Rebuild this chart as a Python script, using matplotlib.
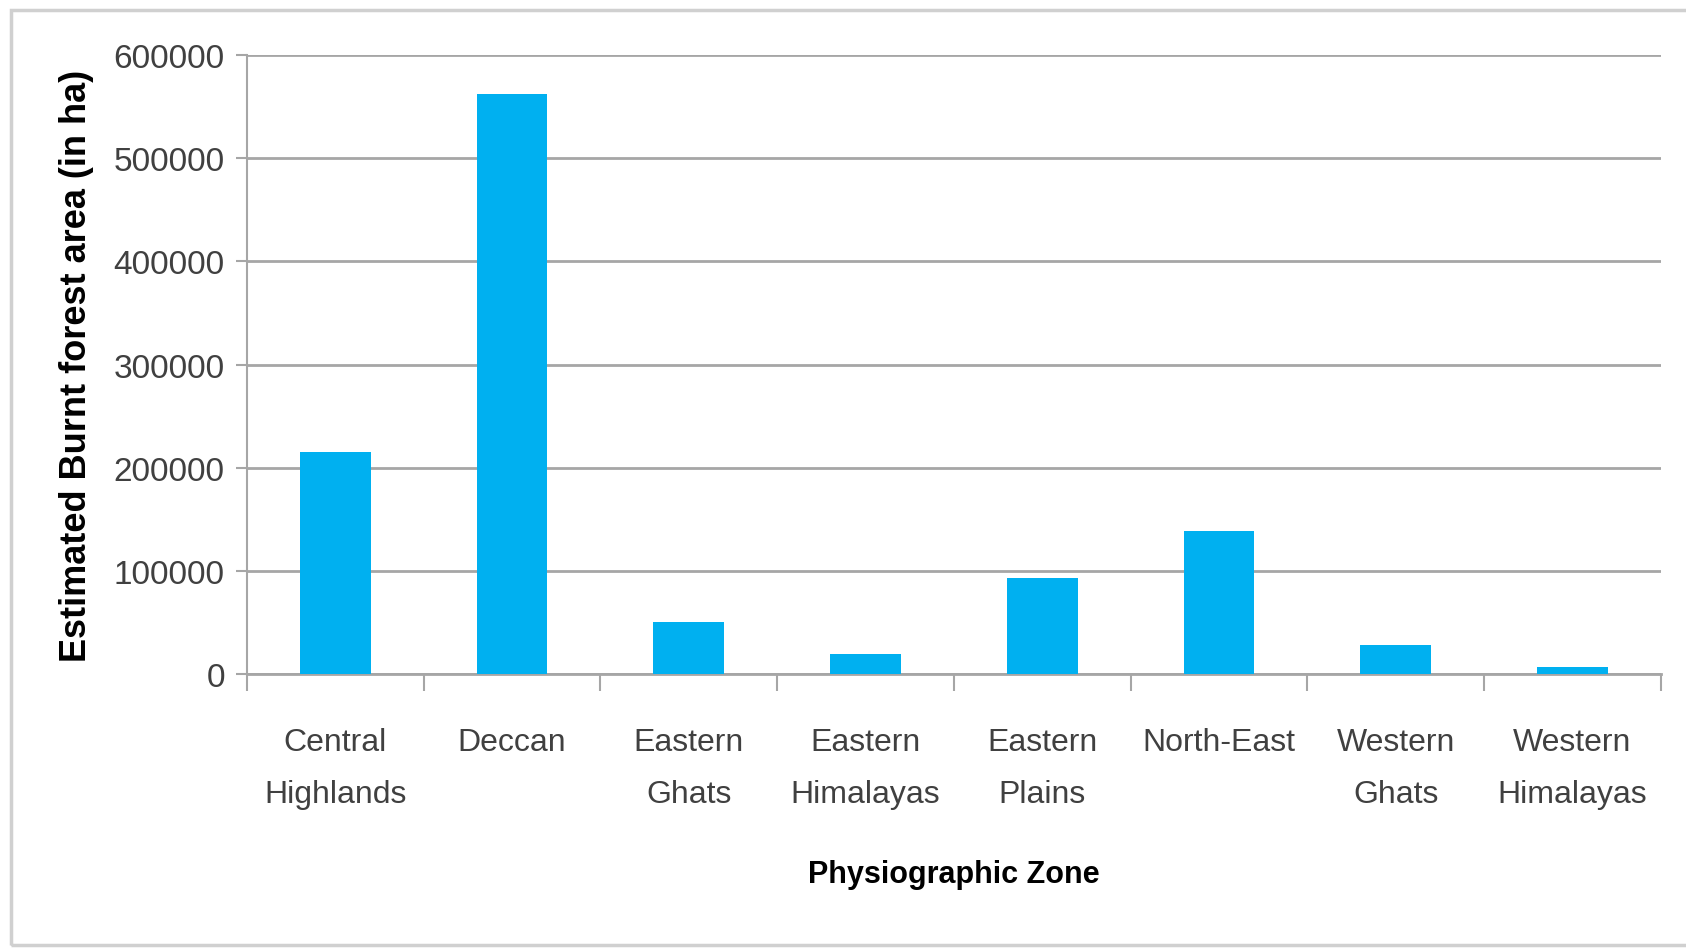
import numpy as np
import matplotlib
matplotlib.use("Agg")
import matplotlib.pyplot as plt
from matplotlib.patches import Rectangle
from matplotlib.ticker import FixedLocator

zones = ["Central\nHighlands", "Deccan", "Eastern\nGhats", "Eastern\nHimalayas",
         "Eastern\nPlains", "North-East", "Western\nGhats", "Western\nHimalayas"]
burnt_area = [215000, 562000, 50000, 19000, 93000, 138500, 28000, 6500]
y_ticks = [0, 100000, 200000, 300000, 400000, 500000, 600000]

sans = ["Liberation Sans Narrow", "Liberation Sans", "DejaVu Sans"]
grey = "#A6A6A6"

fig = plt.figure(figsize=(16.86, 9.53), dpi=100)
ax = fig.add_axes([0.1465, 0.2917, 0.8385, 0.6495])

# chart frame like the spreadsheet export
fig.patches.append(Rectangle((11 / 1686, 7 / 953), 1.0, 935 / 953, transform=fig.transFigure,
                             fill=False, edgecolor="#D0D0D0", linewidth=2.5, zorder=0))

x = np.arange(len(zones))
ax.bar(x, burnt_area, width=0.4, color="#00B0F0", zorder=3)

ax.set_xlim(-0.5, len(zones) - 0.5)
ax.set_ylim(0, 600000)
ax.set_yticks(y_ticks)
ax.set_yticklabels([str(v) for v in y_ticks], fontfamily=sans, fontsize=24, color="#404040")
ax.yaxis.grid(True, color=grey, linewidth=2, zorder=0)
ax.tick_params(axis="y", length=8, width=1.5, color=grey, pad=8)

ax.set_xticks(x)
ax.set_xticklabels(zones, fontfamily=sans, fontsize=23, color="#404040", linespacing=1.95)
ax.xaxis.set_minor_locator(FixedLocator(np.arange(-0.5, len(zones), 1.0)))
ax.tick_params(axis="x", which="major", length=0, pad=38)
ax.tick_params(axis="x", which="minor", length=12, width=1.5, color=grey)

for side in ["top", "right"]:
    ax.spines[side].set_visible(False)
ax.spines["left"].set_color(grey)
ax.spines["left"].set_linewidth(1.5)
ax.spines["bottom"].set_color(grey)
ax.spines["bottom"].set_linewidth(2)

ax.set_xlabel("Physiographic Zone", fontfamily=sans, fontsize=22, fontweight="bold", labelpad=36)
ax.set_ylabel("Estimated Burnt forest area (in ha)", fontfamily=sans,
              fontsize=26, fontweight="bold", labelpad=14)

fig.savefig("out.png", dpi=100)
